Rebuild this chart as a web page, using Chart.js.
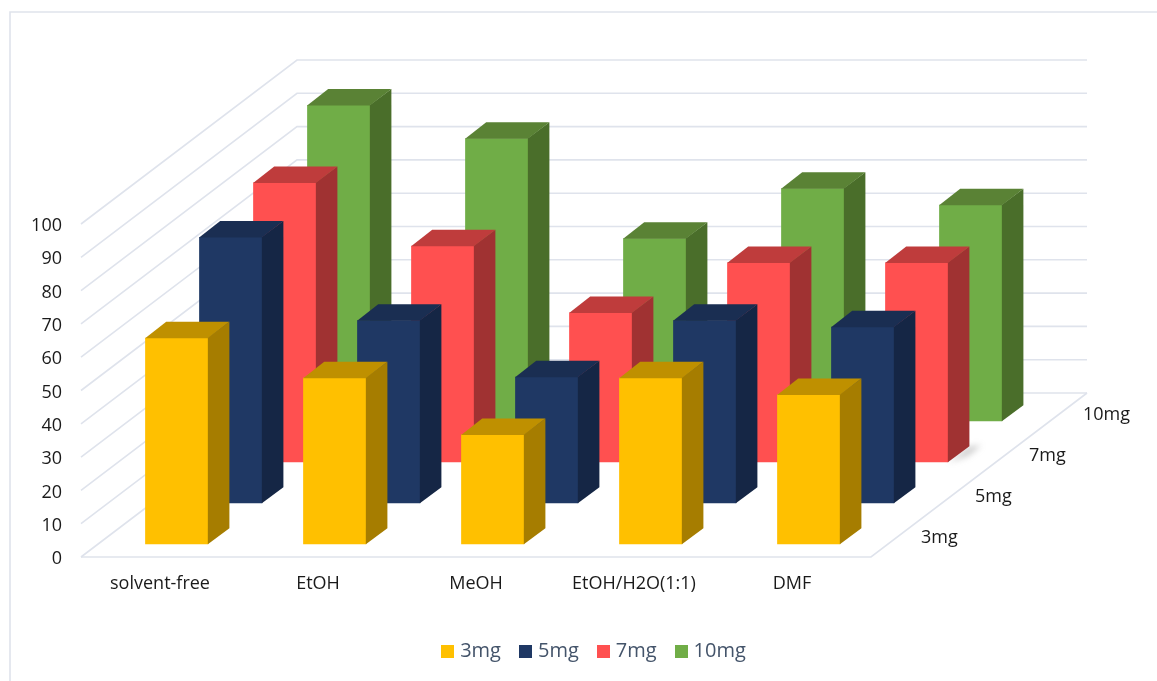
<!DOCTYPE html>
<html>
<head>
<meta charset="utf-8">
<title>3D bars</title>
<script src="https://cdn.jsdelivr.net/npm/chart.js@4/dist/chart.umd.js"></script>
<style>
  html, body { margin: 0; padding: 0; background: #fff; }
  canvas { display: block; }
</style>
</head>
<body>
<canvas id="chart" width="1157" height="681"></canvas>
<script>
var categories = ["solvent-free", "EtOH", "MeOH", "EtOH/H2O(1:1)", "DMF"];
var seriesNames = ["3mg", "5mg", "7mg", "10mg"];
var values3mg = [62, 50, 33, 50, 45];
var values5mg = [80, 55, 38, 55, 53];
var values7mg = [84, 65, 45, 60, 60];
var values10mg = [95, 85, 55, 70, 65];
var seriesValues = [values3mg, values5mg, values7mg, values10mg];

// front, top, side
var faceColors = [
    ["#FFC000", "#BF9000", "#A67D00"],
    ["#1F3864", "#1A2E52", "#152645"],
    ["#FF5050", "#BF3C3C", "#A03232"],
    ["#70AD47", "#5A8235", "#4A6E2A"]
];

var gridColor = "#dfe3ec";
var textColor = "#1a1a1a";
var depthX = 216, depthY = 164;   // how far the floor runs back
var rowInset = 0.31, barDepth = 0.39;

function rowShift(row, extra) {
    var f = (row + extra) / seriesNames.length;
    return {x: depthX * f, y: -depthY * f};
}

// legend swatch, as a small canvas so the text can sit closer to it
function swatch(color) {
    var c = document.createElement("canvas");
    c.width = 13;
    c.height = 13;
    var g = c.getContext("2d");
    g.fillStyle = color;
    g.fillRect(0, 0, 13, 13);
    return c;
}

var walls3d = {
    id: "walls3d",
    beforeDatasetsDraw: function(chart) {
        var ctx = chart.ctx, a = chart.chartArea, y = chart.scales.y;
        ctx.save();
        ctx.strokeStyle = gridColor;
        ctx.lineWidth = 1.6;

        // outer frame
        ctx.beginPath();
        ctx.moveTo(10, 681);
        ctx.lineTo(10, 12);
        ctx.lineTo(1157, 12);
        ctx.stroke();

        y.ticks.forEach(function(t) {
            var py = y.getPixelForValue(t.value);
            ctx.beginPath();
            ctx.moveTo(a.left, py);
            ctx.lineTo(a.left + depthX, py - depthY);
            ctx.lineTo(a.right + depthX, py - depthY);
            ctx.stroke();
        });
        // floor front and right edge
        ctx.beginPath();
        ctx.moveTo(a.left, a.bottom);
        ctx.lineTo(a.right, a.bottom);
        ctx.lineTo(a.right + depthX, a.bottom - depthY);
        ctx.stroke();

        // depth axis labels
        ctx.fillStyle = textColor;
        ctx.font = "18px 'Open Sans'";
        ctx.textAlign = "left";
        ctx.textBaseline = "middle";
        seriesNames.forEach(function(name, i) {
            var s = rowShift(i, 0.5);
            ctx.fillText(name, a.right + s.x + 23, a.bottom + s.y + 1);
        });
        ctx.restore();
    },
    beforeDatasetDraw: function(chart, args) {
        var ctx = chart.ctx, s = rowShift(args.index, rowInset);
        // soft shadow on the floor behind the last 7mg bar
        if (args.index === 2) {
            var b = args.meta.data[args.meta.data.length - 1];
            var d = rowShift(0, barDepth), x = b.x + b.width / 2 + s.x, yb = b.base + s.y;
            ctx.save();
            ctx.filter = "blur(3px)";
            ctx.fillStyle = "rgba(110,110,110,0.35)";
            ctx.beginPath();
            ctx.moveTo(x, yb);
            ctx.lineTo(x + d.x, yb + d.y);
            ctx.lineTo(x + d.x + 12, yb + d.y - 1);
            ctx.lineTo(x + d.x - 2, yb + d.y + 10);
            ctx.closePath();
            ctx.fill();
            ctx.restore();
        }
        ctx.save();
        ctx.translate(s.x, s.y);
    },
    afterDatasetDraw: function(chart, args) {
        var ctx = chart.ctx, c = faceColors[args.index], d = rowShift(0, barDepth);
        args.meta.data.forEach(function(b) {
            var l = b.x - b.width / 2, r = b.x + b.width / 2;
            // faces overlap the front by half a pixel, no seam that way
            ctx.fillStyle = c[2];
            ctx.beginPath();
            ctx.moveTo(r - 0.5, b.y);
            ctx.lineTo(r + d.x, b.y + d.y);
            ctx.lineTo(r + d.x, b.base + d.y);
            ctx.lineTo(r - 0.5, b.base);
            ctx.closePath();
            ctx.fill();
            ctx.fillStyle = c[1];
            ctx.beginPath();
            ctx.moveTo(l, b.y + 0.5);
            ctx.lineTo(l + d.x, b.y + d.y);
            ctx.lineTo(r + d.x, b.y + d.y);
            ctx.lineTo(r - 0.5, b.y + 0.5);
            ctx.closePath();
            ctx.fill();
        });
        ctx.restore();
    },
    afterLayout: function(chart) {
        // legend is centred a bit right of the page middle
        chart.legend.left = 0;
        chart.legend.right = 1191;
    }
};

var chart = new Chart(document.getElementById("chart"), {
    type: "bar",
    data: {
        labels: categories,
        datasets: seriesNames.map(function(name, i) {
            return {
                label: name,
                data: seriesValues[i],
                backgroundColor: faceColors[i][0],
                pointStyle: swatch(faceColors[i][0]),
                borderWidth: 0,
                clip: false
            };
        })
    },
    plugins: [walls3d],
    options: {
        responsive: false,
        animation: false,
        grouped: false,
        barPercentage: 0.4,
        categoryPercentage: 1,
        layout: {padding: {top: 224, right: 286, bottom: 10, left: 0}},
        plugins: {
            tooltip: {enabled: false},
            legend: {
                position: "bottom",
                labels: {
                    usePointStyle: true,
                    boxWidth: 5,
                    boxHeight: 13,
                    padding: 22,
                    color: "#44546a",
                    font: {family: "'Open Sans'", size: 20},
                    generateLabels: function(chart) {
                        return chart.data.datasets.map(function(ds, i) {
                            return {
                                text: ds.label,
                                pointStyle: ds.pointStyle,
                                fontColor: "#44546a",
                                fillStyle: ds.backgroundColor,
                                strokeStyle: ds.backgroundColor,
                                lineWidth: 0,
                                datasetIndex: i
                            };
                        });
                    }
                }
            }
        },
        scales: {
            x: {
                grid: {display: false, drawTicks: false},
                border: {display: false},
                ticks: {padding: 16, maxRotation: 0, color: textColor, font: {family: "'Open Sans'", size: 18}},
                afterFit: function(s) { s.height = 62; }
            },
            y: {
                min: 0,
                max: 100,
                grid: {display: false, drawTicks: false},
                border: {display: false},
                ticks: {stepSize: 10, padding: 19, labelOffset: 2, color: textColor, font: {family: "'Open Sans'", size: 18}},
                afterFit: function(s) { s.width = 81; }
            }
        }
    }
});
</script>
</body>
</html>
